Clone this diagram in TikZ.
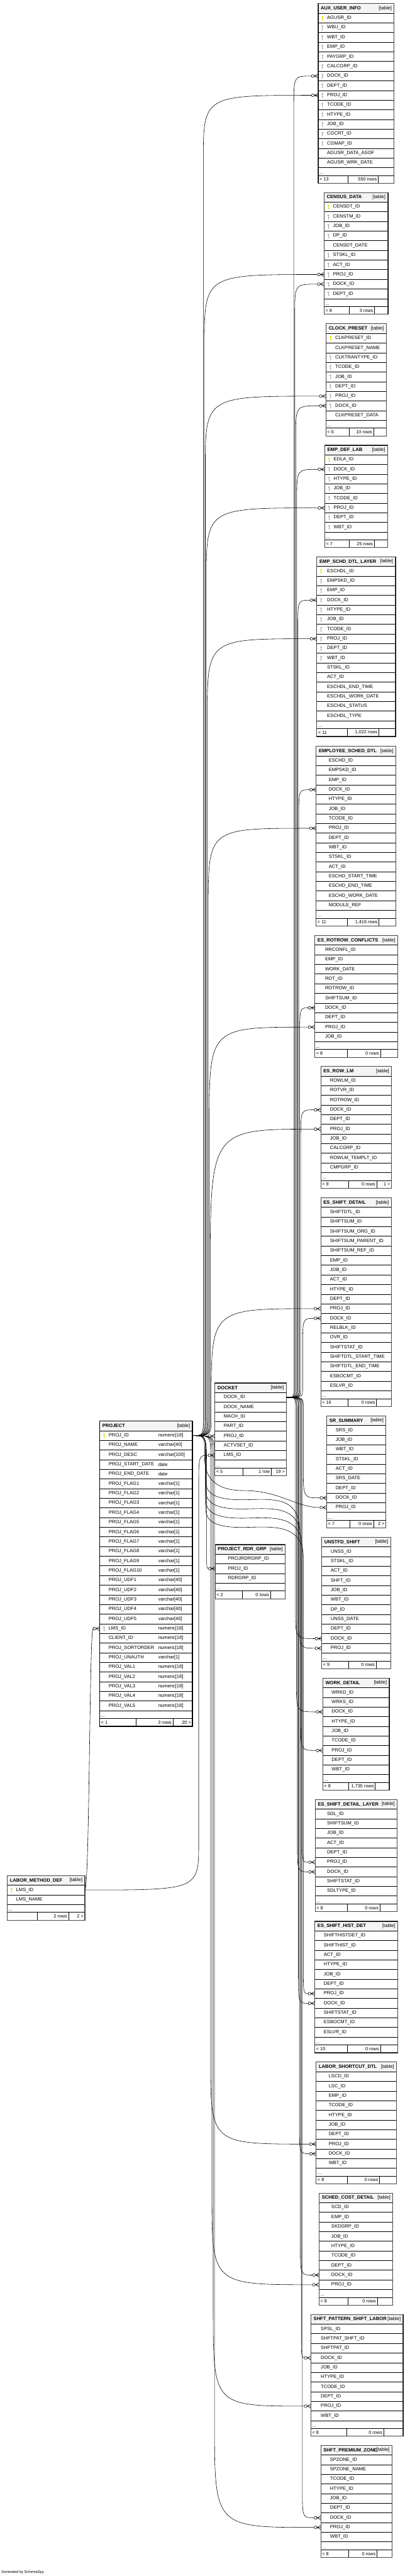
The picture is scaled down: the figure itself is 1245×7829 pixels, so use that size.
\documentclass[tikz,border=0pt]{standalone}
\usepackage{fontspec}
\setmainfont{Liberation Sans}
\usetikzlibrary{calc}
\catcode`\_=12

\definecolor{headgray}{RGB}{244,244,244}
\definecolor{keyyellow}{RGB}{222,222,0}
\definecolor{keygray}{RGB}{172,172,172}
\definecolor{framegray}{RGB}{70,70,70}

\newcommand{\rowh}{29.33}

\tikzset{
  headcell/.style={draw, fill=headgray, line width=1.3pt, anchor=north west, inner sep=0pt, outer sep=0pt, minimum height=\rowh},
  rowcell/.style={draw, line width=1.3pt, anchor=north west, inner sep=0pt, outer sep=0pt, minimum height=\rowh},
  coltext/.style={anchor=west, inner sep=0pt, font=\fontsize{14.5}{16}\selectfont},
  foottext/.style={inner sep=0pt, font=\fontsize{14}{16}\selectfont},
  rel/.style={draw, line width=1.1pt},
  crow/.pic={
    \draw[line width=1.1pt] (-16,0) circle (4.3);
    \draw[line width=1.1pt] (-11.7,0) -- (0,0) (-11.7,0) -- (0,6) (-11.7,0) -- (0,-6);
  }
}

% key icons
\newcommand{\keyshape}[2]{%
  \fill[#1] ([xshift=13,yshift=4]#2.west) circle (2.9);
  \fill[#1] ([xshift=12,yshift=3]#2.west) rectangle ([xshift=14,yshift=-8]#2.west);
  \fill[#1] ([xshift=14,yshift=-3]#2.west) rectangle ([xshift=15.5,yshift=-4.5]#2.west);
}
\newcommand{\keyiconp}[1]{\keyshape{keyyellow}{#1}}
\newcommand{\keyiconf}[1]{\keyshape{keygray}{#1}}
\newcommand{\keyiconn}[1]{}

% footer: id, x, y, width, left, middle, right
\newcommand{\dbfoot}[7]{%
  \node[rowcell, minimum height=23.5, minimum width=0.39*#4] (#1-fl) at (#2,#3) {};
  \node[rowcell, minimum height=23.5, minimum width=0.40*#4] (#1-fm) at (#1-fl.north east) {};
  \node[rowcell, minimum height=23.5, minimum width=0.21*#4] (#1-fr) at (#1-fm.north east) {};
  \node[foottext, anchor=west] at ([xshift=4]#1-fl.west) {#5};
  \node[foottext, anchor=east] at ([xshift=-4]#1-fm.east) {#6};
  \node[foottext, anchor=east] at ([xshift=-4]#1-fr.east) {#7};
}

% table: id, left, top, width, title, text inset, rows, footer
\newcommand{\dbtable}[8]{%
  \node[headcell, minimum width=#4] (#1-h) at (#2,#3) {};
  \node[coltext, font=\fontsize{14.5}{16}\selectfont\bfseries] at ([xshift=8]#1-h.west) {#5};
  \node[coltext, anchor=east] at ([xshift=-7]#1-h.east) {[table]};
  \foreach \kk/\cname [count=\i] in {#7} {
    \node[rowcell, minimum width=#4] (#1-\i) at (#2, #3+\i*\rowh) {};
    \node[coltext] at ([xshift=#6]#1-\i.west) {\cname};
    \csname keyicon\kk\endcsname{#1-\i}
    \xdef\nrows{\i}
  }
  \node[rowcell, minimum width=#4, minimum height=24] (#1-d) at (#2, #3+\nrows*\rowh+\rowh) {};
  \node[foottext, anchor=south west] at ([xshift=4, yshift=4]#1-d.south west) {...};
  \dbfoot{#1}{#2}{#3+\nrows*\rowh+\rowh+24}{#4}#8
  \draw[framegray, line width=2pt] (#2,#3) rectangle (#2+#4, #3+\nrows*\rowh+\rowh+47.5);
}

% foreign key line: source row, target row, trunk x, start turn, end turn
\newcommand{\fk}[5]{%
  \draw[rel] (#1.east) .. controls (#3,0 |- #1.east) .. ($(#3,0 |- #1.east)+(0,#4)$)
    -- ($(#3,0 |- #2.west)+(0,#5)$) .. controls (#3,0 |- #2.west) .. ([xshift=-20.3]#2.west);
  \pic at (#2.west) {crow};
}
% line that crosses over to the right bundle: source, target, leave y, right trunk x
\newcommand{\fkx}[4]{%
  \draw[rel] (#1.east) .. controls (625,0 |- #1.east) .. ($(625,0 |- #1.east)+(0,60)$)
    -- (625,#3) .. controls (625,#3+45) and (665,#3+58) .. (735,#3+58)
    .. controls (815,#3+58) and (#4,#3+40) .. (#4,#3+150)
    -- ($(#4,0 |- #2.west)+(0,-90)$) .. controls (#4,0 |- #2.west) .. ([xshift=-20.3]#2.west);
  \pic at (#2.west) {crow};
}

\begin{document}
\begin{tikzpicture}[x=1pt, y=-1pt]
  \fill[white] (0,0) rectangle (1245,7829);
  \useasboundingbox (0,0) rectangle (1245,7829);

  % right column
  \dbtable{aux}{967}{11}{231}{AUX_USER_INFO}{27}{p/AGUSR_ID,f/WBU_ID,f/WBT_ID,f/EMP_ID,f/PAYGRP_ID,f/CALCGRP_ID,f/DOCK_ID,f/DEPT_ID,f/PROJ_ID,f/TCODE_ID,f/HTYPE_ID,f/JOB_ID,f/CGCRT_ID,f/CGMAP_ID,n/AGUSR_DATA_ASOF,n/AGUSR_WRK_DATE}{{< 13}{550 rows}{}}
  \dbtable{census}{985}{585}{194}{CENSUS_DATA}{27}{p/CENSDT_ID,f/CENSTM_ID,f/JOB_ID,f/DP_ID,n/CENSDT_DATE,f/STSKL_ID,f/ACT_ID,f/PROJ_ID,f/DOCK_ID,f/DEPT_ID}{{< 8}{3 rows}{}}
  \dbtable{clock}{991}{984}{183}{CLOCK_PRESET}{28}{p/CLKPRESET_ID,n/CLKPRESET_NAME,f/CLKTRANTYPE_ID,f/TCODE_ID,f/JOB_ID,f/DEPT_ID,f/PROJ_ID,f/DOCK_ID,n/CLKPRESET_DATA}{{< 6}{10 rows}{}}
  \dbtable{edl}{987}{1353}{191}{EMP_DEF_LAB}{27}{p/EDLA_ID,f/DOCK_ID,f/HTYPE_ID,f/JOB_ID,f/TCODE_ID,f/PROJ_ID,f/DEPT_ID,f/WBT_ID}{{< 7}{25 rows}{}}
  \dbtable{esdl}{963}{1692}{239}{EMP_SCHD_DTL_LAYER}{31}{p/ESCHDL_ID,f/EMPSKD_ID,f/EMP_ID,f/DOCK_ID,f/HTYPE_ID,f/JOB_ID,f/TCODE_ID,f/PROJ_ID,f/DEPT_ID,f/WBT_ID,n/STSKL_ID,n/ACT_ID,n/ESCHDL_END_TIME,n/ESCHDL_WORK_DATE,n/ESCHDL_STATUS,n/ESCHDL_TYPE}{{< 11}{1,022 rows}{}}
  \dbtable{esd}{961}{2268}{242}{EMPLOYEE_SCHED_DTL}{38}{n/ESCHD_ID,n/EMPSKD_ID,n/EMP_ID,n/DOCK_ID,n/HTYPE_ID,n/JOB_ID,n/TCODE_ID,n/PROJ_ID,n/DEPT_ID,n/WBT_ID,n/STSKL_ID,n/ACT_ID,n/ESCHD_START_TIME,n/ESCHD_END_TIME,n/ESCHD_WORK_DATE,n/MODULE_REF}{{< 11}{1,416 rows}{}}
  \dbtable{rrc}{957}{2843}{252}{ES_ROTROW_CONFLICTS}{31}{n/RRCONFL_ID,n/EMP_ID,n/WORK_DATE,n/ROT_ID,n/ROTROW_ID,n/SHIFTSUM_ID,n/DOCK_ID,n/DEPT_ID,n/PROJ_ID,n/JOB_ID}{{< 8}{0 rows}{}}
  \dbtable{rlm}{975}{3241}{215}{ES_ROW_LM}{28}{n/ROWLM_ID,n/ROTVR_ID,n/ROTROW_ID,n/DOCK_ID,n/DEPT_ID,n/PROJ_ID,n/JOB_ID,n/CALCGRP_ID,n/ROWLM_TEMPLT_ID,n/CMPGRP_ID}{{< 9}{0 rows}{1 >}}
  \dbtable{shd}{975}{3640}{214}{ES_SHIFT_DETAIL}{28}{n/SHIFTDTL_ID,n/SHIFTSUM_ID,n/SHIFTSUM_ORG_ID,n/SHIFTSUM_PARENT_ID,n/SHIFTSUM_REF_ID,n/EMP_ID,n/JOB_ID,n/ACT_ID,n/HTYPE_ID,n/DEPT_ID,n/PROJ_ID,n/DOCK_ID,n/RELBLK_ID,n/OVR_ID,n/SHIFTSTAT_ID,n/SHIFTDTL_START_TIME,n/SHIFTDTL_END_TIME,n/ESBOCMT_ID,n/ESLVR_ID}{{< 16}{0 rows}{}}
  \dbtable{srs}{993}{4303}{180}{SR_SUMMARY}{27}{n/SRS_ID,n/JOB_ID,n/WBT_ID,n/STSKL_ID,n/ACT_ID,n/SRS_DATE,n/DEPT_ID,n/DOCK_ID,n/PROJ_ID}{{< 7}{0 rows}{2 >}}
  \dbtable{uns}{978}{4672}{209}{UNSTFD_SHIFT}{27}{n/UNSS_ID,n/STSKL_ID,n/ACT_ID,n/SHFT_ID,n/JOB_ID,n/WBT_ID,n/DP_ID,n/UNSS_DATE,n/DEPT_ID,n/DOCK_ID,n/PROJ_ID}{{< 9}{0 rows}{}}
  \dbtable{wrk}{981}{5100}{202}{WORK_DETAIL}{27}{n/WRKD_ID,n/WRKS_ID,n/DOCK_ID,n/HTYPE_ID,n/JOB_ID,n/TCODE_ID,n/PROJ_ID,n/DEPT_ID,n/WBT_ID}{{< 8}{1,735 rows}{}}
  \dbtable{sdl}{958}{5469}{249}{ES_SHIFT_DETAIL_LAYER}{36}{n/SDL_ID,n/SHIFTSUM_ID,n/JOB_ID,n/ACT_ID,n/DEPT_ID,n/PROJ_ID,n/DOCK_ID,n/SHIFTSTAT_ID,n/SDLTYPE_ID}{{< 8}{0 rows}{}}
  \dbtable{shh}{957}{5839}{252}{ES_SHIFT_HIST_DET}{27}{n/SHIFTHISTDET_ID,n/SHIFTHIST_ID,n/ACT_ID,n/HTYPE_ID,n/JOB_ID,n/DEPT_ID,n/PROJ_ID,n/DOCK_ID,n/SHIFTSTAT_ID,n/ESBOCMT_ID,n/ESLVR_ID}{{< 10}{0 rows}{}}
  \dbtable{lsc}{961}{6267}{244}{LABOR_SHORTCUT_DTL}{38}{n/LSCD_ID,n/LSC_ID,n/EMP_ID,n/TCODE_ID,n/HTYPE_ID,n/JOB_ID,n/DEPT_ID,n/PROJ_ID,n/DOCK_ID,n/WBT_ID}{{< 8}{0 rows}{}}
  \dbtable{scd}{970}{6665}{224}{SCHED_COST_DETAIL}{37}{n/SCD_ID,n/EMP_ID,n/SKDGRP_ID,n/JOB_ID,n/HTYPE_ID,n/TCODE_ID,n/DEPT_ID,n/DOCK_ID,n/PROJ_ID}{{< 8}{0 rows}{}}
  \dbtable{spsl}{945}{7034}{280}{SHFT_PATTERN_SHIFT_LABOR}{30}{n/SPSL_ID,n/SHFTPAT_SHFT_ID,n/SHFTPAT_ID,n/DOCK_ID,n/JOB_ID,n/HTYPE_ID,n/TCODE_ID,n/DEPT_ID,n/PROJ_ID,n/WBT_ID}{{< 8}{0 rows}{}}
  \dbtable{spz}{975}{7432}{216}{SHFT_PREMIUM_ZONE}{28}{n/SPZONE_ID,n/SPZONE_NAME,n/TCODE_ID,n/HTYPE_ID,n/JOB_ID,n/DEPT_ID,n/DOCK_ID,n/PROJ_ID,n/WBT_ID}{{< 8}{0 rows}{}}

  % middle
  \dbtable{project}{303}{4319}{282}{PROJECT}{27}{p/PROJ_ID,n/PROJ_NAME,n/PROJ_DESC,n/PROJ_START_DATE,n/PROJ_END_DATE,n/PROJ_FLAG1,n/PROJ_FLAG2,n/PROJ_FLAG3,n/PROJ_FLAG4,n/PROJ_FLAG5,n/PROJ_FLAG6,n/PROJ_FLAG7,n/PROJ_FLAG8,n/PROJ_FLAG9,n/PROJ_FLAG10,n/PROJ_UDF1,n/PROJ_UDF2,n/PROJ_UDF3,n/PROJ_UDF4,n/PROJ_UDF5,f/LMS_ID,n/CLIENT_ID,n/PROJ_SORTORDER,n/PROJ_UNAUTH,n/PROJ_VAL1,n/PROJ_VAL2,n/PROJ_VAL3,n/PROJ_VAL4,n/PROJ_VAL5}{{< 1}{3 rows}{20 >}}
  \foreach \ty [count=\i] in {numeric[18],varchar[40],varchar[100],date,date,varchar[1],varchar[1],varchar[1],varchar[1],varchar[1],varchar[1],varchar[1],varchar[1],varchar[1],varchar[1],varchar[40],varchar[40],varchar[40],varchar[40],varchar[40],numeric[18],numeric[18],numeric[18],varchar[1],numeric[18],numeric[18],numeric[18],numeric[18],numeric[18]}
    \node[coltext] at ([xshift=178]project-\i.west) {\ty};
  \draw[black, line width=3pt] (project-h.north west) rectangle (project-fr.south east);
  \dbtable{docket}{653}{4203}{217}{DOCKET}{27}{n/DOCK_ID,n/DOCK_NAME,n/MACH_ID,n/PART_ID,n/PROJ_ID,n/ACTVSET_ID,n/LMS_ID}{{< 5}{1 row}{19 >}}
  \dbtable{prg}{654}{4694}{213}{PROJECT_RDR_GRP}{39}{n/PROJRDRGRP_ID,n/PROJ_ID,n/RDRGRP_ID}{{< 2}{0 rows}{}}
  \dbtable{lmd}{22}{5700}{236}{LABOR_METHOD_DEF}{27}{p/LMS_ID,n/LMS_NAME}{{}{2 rows}{2 >}}

  % PROJECT.PROJ_ID to the tables above
  \fk{project-1}{aux-9}{618}{-60}{200}
  \fk{project-1}{census-8}{621}{-60}{220}
  \fk{project-1}{clock-7}{624}{-60}{220}
  \fk{project-1}{edl-6}{627}{-60}{220}
  \fk{project-1}{esdl-8}{630}{-60}{240}
  \fk{project-1}{esd-8}{633}{-60}{240}
  \fk{project-1}{rrc-9}{636}{-60}{300}
  \fk{project-1}{rlm-6}{639}{-60}{450}
  \fk{project-1}{shd-11}{642}{-60}{280}
  \draw[rel] (project-1.east) -- ([xshift=-20.3]docket-5.west);
  \pic at (docket-5.west) {crow};
  \draw[rel] (project-1.east) .. controls (628,0 |- project-1.east) .. (628,4460) -- (628,4700) .. controls (628,0 |- prg-2.west) .. ([xshift=-20.3]prg-2.west);
  \pic at (prg-2.west) {crow};

  % PROJECT.PROJ_ID to the tables below
  \draw[rel] (project-1.east) .. controls (622,0 |- project-1.east) .. (622,4430) .. controls (622,4500) and (665,4530) .. (740,4530) .. controls (850,4530) and (900,0 |- srs-9.west) .. ([xshift=-20.3]srs-9.west);
  \pic at (srs-9.west) {crow};
  \fkx{project-1}{uns-11}{4500}{910}
  \fkx{project-1}{wrk-7}{4528}{914}
  \fkx{project-1}{sdl-6}{4556}{918}
  \fkx{project-1}{shh-7}{4584}{922}
  \fk{project-1}{lsc-8}{640}{60}{-260}
  \fk{project-1}{scd-9}{644}{60}{-280}
  \fk{project-1}{spsl-9}{648}{60}{-300}
  \fk{project-1}{spz-8}{652}{60}{-320}

  % DOCKET.DOCK_ID to the tables above
  \fk{docket-1}{aux-7}{893}{-30}{90}
  \fk{docket-1}{census-9}{896}{-30}{90}
  \fk{docket-1}{clock-8}{899}{-30}{90}
  \fk{docket-1}{edl-2}{902}{-30}{90}
  \fk{docket-1}{esdl-4}{905}{-30}{90}
  \fk{docket-1}{esd-4}{908}{-30}{90}
  \fk{docket-1}{rrc-7}{911}{-30}{90}
  \fk{docket-1}{rlm-4}{914}{-30}{90}
  \fk{docket-1}{shd-12}{920}{-30}{90}

  % DOCKET.DOCK_ID to the tables below
  \fk{docket-1}{srs-8}{922}{30}{-90}
  \fk{docket-1}{uns-10}{898}{30}{-90}
  \fk{docket-1}{wrk-3}{901}{30}{-90}
  \fk{docket-1}{sdl-7}{904}{30}{-90}
  \fk{docket-1}{shh-8}{907}{30}{-90}
  \fk{docket-1}{lsc-9}{910}{30}{-90}
  \fk{docket-1}{scd-8}{913}{30}{-90}
  \fk{docket-1}{spsl-4}{916}{30}{-90}
  \fk{docket-1}{spz-7}{919}{30}{-90}

  % LABOR_METHOD_DEF.LMS_ID to PROJECT and DOCKET
  \draw[rel] (lmd-1.east) .. controls (272,0 |- lmd-1.east) and (272,0 |- project-21.west) .. ([xshift=-20.3]project-21.west);
  \pic at (project-21.west) {crow};
  \draw[rel] (lmd-1.east) .. controls (604,0 |- lmd-1.east) .. (604,5600) -- (604,4520) .. controls (604,0 |- docket-7.west) .. ([xshift=-20.3]docket-7.west);
  \pic at (docket-7.west) {crow};

  \node[anchor=south west, inner sep=0pt, font=\fontsize{11}{12}\selectfont] (gen) at (4,7822) {Generated by SchemaSpy};
\end{tikzpicture}
\end{document}
